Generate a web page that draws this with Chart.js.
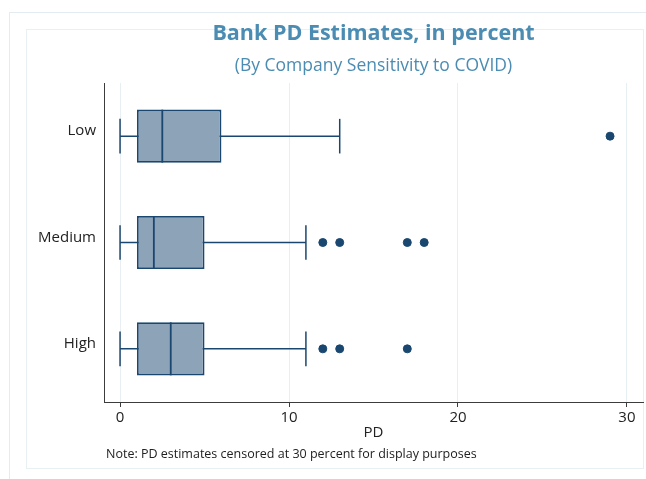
<!DOCTYPE html>
<html>
<head>
<meta charset="utf-8">
<title>Bank PD Estimates</title>
<script src="https://cdn.jsdelivr.net/npm/chart.js@4.4.1/dist/chart.umd.min.js"></script>
<style>
  html, body { margin: 0; padding: 0; background: #ffffff; overflow: hidden; }
  body { width: 646px; height: 479px; position: relative; font-family: 'Open Sans', sans-serif; }
  .frame-outer { position: absolute; left: 9px; top: 12px; width: 700px; height: 520px; border: 1px solid #e3ecf0; box-sizing: border-box; }
  .frame-inner { position: absolute; left: 26px; top: 29px; width: 618px; height: 440px; border: 1px solid #e9f0f3; box-sizing: border-box; }
  #chart { position: absolute; left: 0; top: 0; }
  .note { position: absolute; left: 106px; top: 446px; font-size: 12.5px; line-height: 16px; color: #222; white-space: nowrap; }
</style>
</head>
<body>
<div class="frame-outer"></div>
<div class="frame-inner"></div>
<canvas id="chart" width="646" height="479"></canvas>
<div class="note">Note: PD estimates censored at 30 percent for display purposes</div>
<script>
// Box plot summaries of bank PD estimates (percent) by company sensitivity
const categories   = ['Low', 'Medium', 'High'];
const whiskerLow   = [0, 0, 0];
const quartile1    = [1, 1, 1];
const medians      = [2.5, 2, 3];
const quartile3    = [6, 5, 5];
const whiskerHigh  = [13, 11, 11];
const outliers     = [[29], [12, 13, 17, 18], [12, 13, 17]];
const xTickValues  = [0, 10, 20, 30];

const NAVY = '#1a476f';
const BOX_FILL = 'rgb(141,163,184)';
const FONT = "'Open Sans', sans-serif";

// Categories are placed top to bottom on a numeric axis: Low = 3 ... High = 1
const pos = categories.map((c, i) => categories.length - i);

const whiskerSets = categories.map((c, i) => ({
  type: 'scatter',
  showLine: true,
  data: [{ x: whiskerLow[i], y: pos[i] }, { x: whiskerHigh[i], y: pos[i] }],
  borderColor: NAVY,
  borderWidth: 1.5,
  pointRadius: 0,
  order: 5
}));

const boxSet = {
  type: 'bar',
  indexAxis: 'y',
  data: categories.map((c, i) => ({ y: pos[i], x: [quartile1[i], quartile3[i]] })),
  backgroundColor: BOX_FILL,
  borderColor: NAVY,
  borderWidth: 1.8,
  borderSkipped: false,
  categoryPercentage: 1,
  barPercentage: 0.5,
  order: 4
};

const medianSet = {
  type: 'scatter',
  data: categories.map((c, i) => ({ x: medians[i], y: pos[i] })),
  pointStyle: 'line',
  pointRotation: 90,
  pointRadius: 26.5,
  pointBorderColor: NAVY,
  pointBorderWidth: 1.8,
  order: 3
};

const capSet = {
  type: 'scatter',
  data: categories.flatMap((c, i) => [
    { x: whiskerLow[i], y: pos[i] },
    { x: whiskerHigh[i], y: pos[i] }
  ]),
  pointStyle: 'line',
  pointRotation: 90,
  pointRadius: 17.3,
  pointBorderColor: NAVY,
  pointBorderWidth: 1.5,
  order: 2
};

const outlierSet = {
  type: 'scatter',
  data: categories.flatMap((c, i) => outliers[i].map(v => ({ x: v, y: pos[i] }))),
  pointStyle: 'circle',
  pointRadius: 4,
  pointBackgroundColor: NAVY,
  pointBorderColor: NAVY,
  pointBorderWidth: 1,
  order: 1
};

new Chart(document.getElementById('chart'), {
  type: 'scatter',
  data: { datasets: [...whiskerSets, boxSet, medianSet, capSet, outlierSet] },
  options: {
    responsive: false,
    animation: false,
    events: [],
    layout: { autoPadding: false, padding: { left: 0, right: 3, top: 0, bottom: 37 } },
    plugins: {
      legend: { display: false },
      tooltip: { enabled: false },
      title: {
        display: true,
        fullSize: false,
        text: 'Bank PD Estimates, in percent',
        color: '#4b8cb3',
        font: { family: FONT, size: 21.5, weight: 'bold' },
        padding: { top: 21.3, bottom: 0 }
      },
      subtitle: {
        display: true,
        fullSize: false,
        text: '(By Company Sensitivity to COVID)',
        color: '#4b8cb3',
        font: { family: FONT, size: 17.5, weight: 'normal' },
        padding: { top: 8.1, bottom: 6.8 }
      }
    },
    scales: {
      x: {
        type: 'linear',
        min: -0.95,
        max: 30.95,
        offset: false,
        afterBuildTicks: s => { s.ticks = xTickValues.map(v => ({ value: v })); },
        afterFit: s => { s.height = 40; },
        grid: { color: '#e8eff2', lineWidth: 1, drawTicks: true, tickLength: 5, tickColor: '#3c3c3c', tickWidth: 1 },
        border: { color: '#3c3c3c', width: 1 },
        ticks: { color: '#222', font: { family: FONT, size: 15 }, padding: 2, maxRotation: 0 },
        title: { display: true, text: 'PD', color: '#222', font: { family: FONT, size: 15 }, padding: 0 }
      },
      y: {
        type: 'linear',
        min: 0.5,
        max: 3.5,
        offset: false,
        afterBuildTicks: s => { s.ticks = pos.map(v => ({ value: v })); },
        afterFit: s => { s.width = 104; },
        grid: { display: false, drawTicks: false },
        border: { color: '#3c3c3c', width: 1 },
        ticks: {
          color: '#222',
          font: { family: FONT, size: 15 },
          padding: 8,
          labelOffset: -5,
          callback: v => categories[pos.indexOf(v)]
        }
      }
    }
  }
});
</script>
</body>
</html>
